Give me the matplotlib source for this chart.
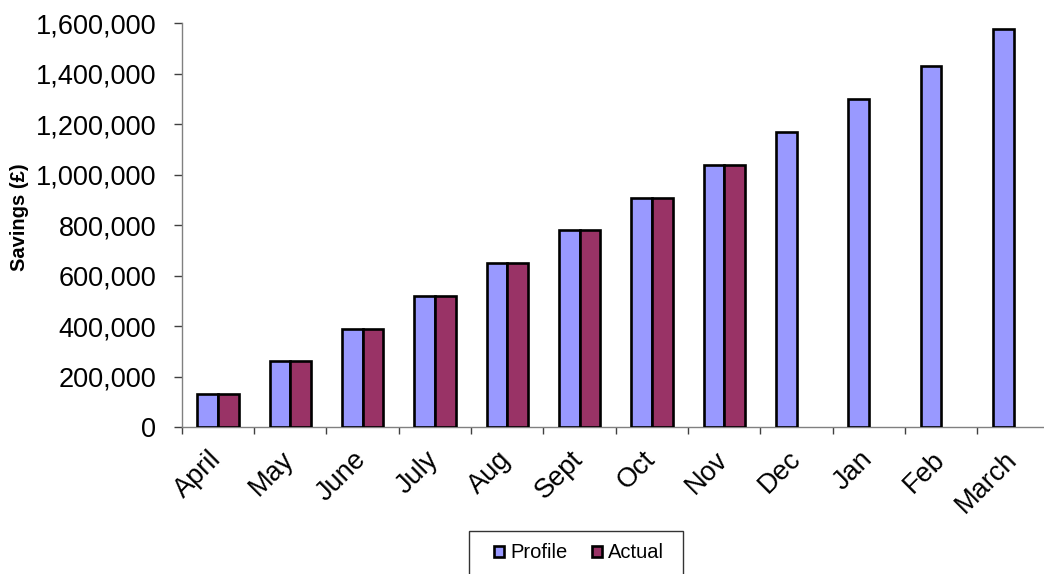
import numpy as np
import matplotlib
matplotlib.use('Agg')
import matplotlib.pyplot as plt
from matplotlib.ticker import FuncFormatter, FixedLocator
from matplotlib.patches import Rectangle

months = ['April', 'May', 'June', 'July', 'Aug', 'Sept', 'Oct', 'Nov',
          'Dec', 'Jan', 'Feb', 'March']
profile = [130000, 260000, 390000, 520000, 650000, 780000, 910000, 1040000,
           1170000, 1300000, 1430000, 1580000]
actual = [130000, 260000, 390000, 520000, 650000, 780000, 910000, 1040000,
          None, None, None, None]
yticks = [0, 200000, 400000, 600000, 800000, 1000000, 1200000, 1400000, 1600000]

plt.rcParams['font.family'] = ['Liberation Sans', 'DejaVu Sans']

W, H = 1044, 574
fig = plt.figure(figsize=(W / 100, H / 100), dpi=100)
ax = fig.add_axes([181.7 / W, 147 / H, 868 / W, 403.5 / H])

x = np.arange(len(months))
w = 0.286
ax.bar(x - w / 2, profile, w, color='#9999FF', edgecolor='black',
       linewidth=1.9, label='Profile', zorder=3)
ax_idx = [i for i, v in enumerate(actual) if v is not None]
ax.bar(x[ax_idx] + w / 2, [actual[i] for i in ax_idx], w, color='#993366',
       edgecolor='black', linewidth=1.9, label='Actual', zorder=3)

ax.set_xlim(-0.5, len(months) - 0.5)
ax.set_ylim(0, 1600000)
ax.yaxis.set_major_locator(FixedLocator(yticks))
ax.yaxis.set_major_formatter(FuncFormatter(lambda v, p: f'{v:,.0f}'))

ax.set_xticks(x)
ax.set_xticklabels(months, rotation=45, ha='right', va='center',
                   rotation_mode='anchor')
ax.set_xticks(np.arange(-0.5, len(months), 1), minor=True)
ax.tick_params(axis='x', which='major', length=0, pad=20.5, labelsize=19.5)
ax.tick_params(axis='x', which='minor', length=5.3, width=1, color='#404040',
               direction='out')
ax.tick_params(axis='y', which='major', length=5.5, width=1, color='#404040',
               direction='out', pad=13, labelsize=19.5)

for s in ['top', 'right']:
    ax.spines[s].set_visible(False)
for s in ['left', 'bottom']:
    ax.spines[s].set_color('#808080')
    ax.spines[s].set_linewidth(1.0)

ylab = ax.set_ylabel('Savings (£)', fontsize=14.5, fontweight='bold')
ylab.set_va('center')
ax.yaxis.set_label_coords((20 - 181.7) / 868, (427 - 217) / 403.5)

fig.add_artist(Rectangle((469 / W, -0.05), (683 - 469) / W, 0.05 + (574 - 531) / H,
                         transform=fig.transFigure, fill=False,
                         edgecolor='#333333', linewidth=1))
ax.legend(loc='center', bbox_to_anchor=(579 / W, 1 - 553 / H),
          bbox_transform=fig.transFigure, ncol=2, frameon=False, fontsize=14.5,
          handlelength=0.5, handleheight=0.5, handletextpad=0.3,
          columnspacing=1.2, borderpad=0, borderaxespad=0)

fig.savefig('out.png', dpi=100)
